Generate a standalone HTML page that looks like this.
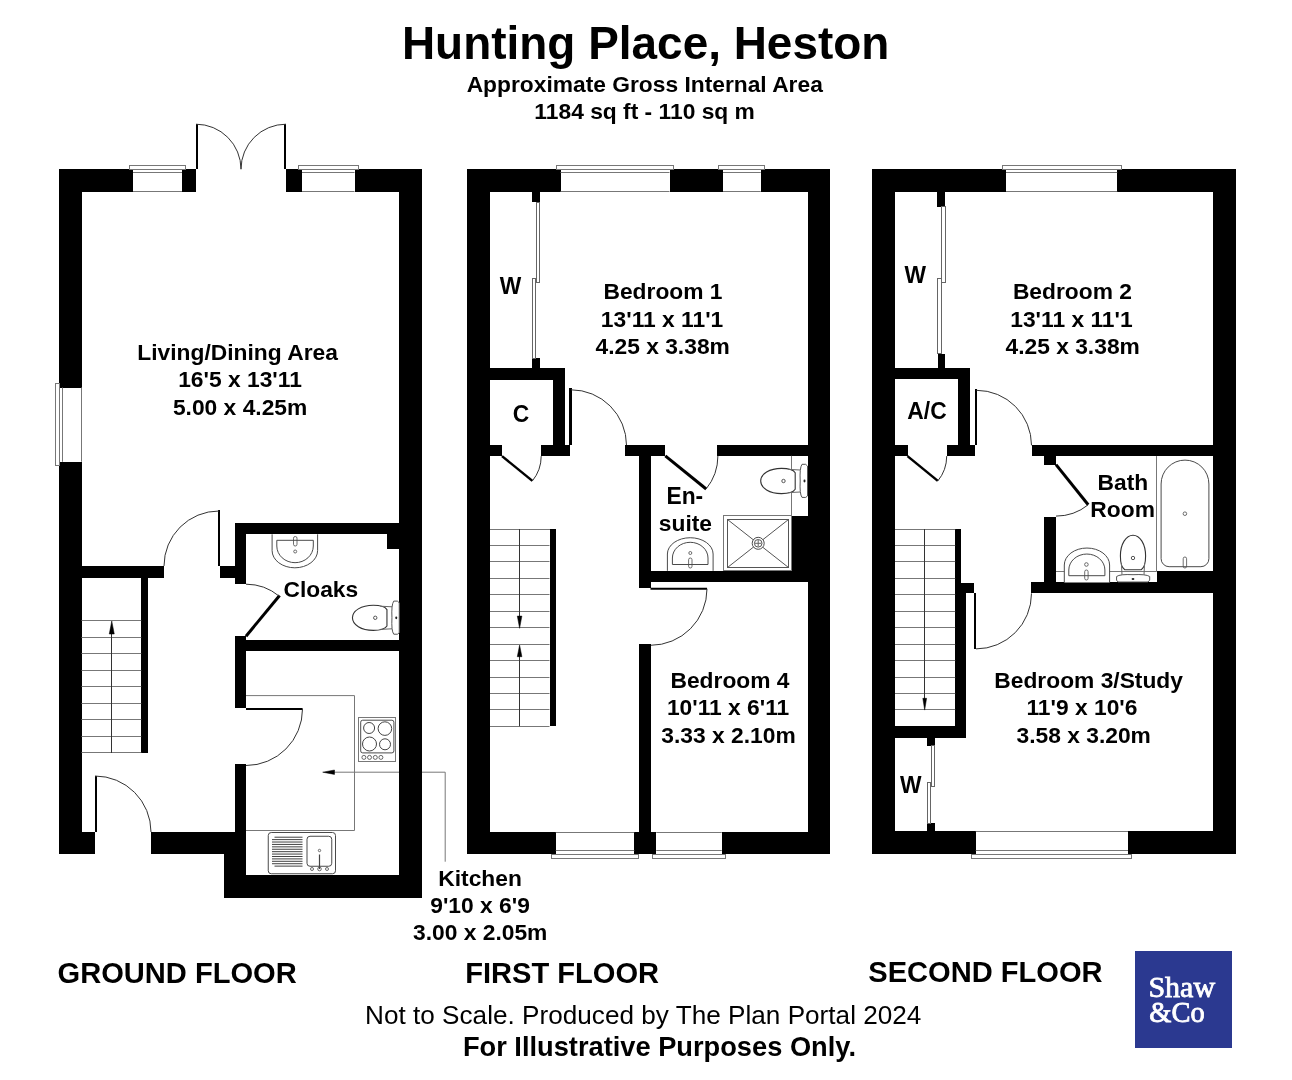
<!DOCTYPE html>
<html><head><meta charset="utf-8"><title>Hunting Place, Heston</title>
<style>html,body{margin:0;padding:0;background:#fff;}svg{display:block;will-change:transform;}</style></head>
<body><svg width="1292" height="1080" viewBox="0 0 1292 1080" shape-rendering="auto">
<rect width="1292" height="1080" fill="#fff"/>
<rect x="59" y="169" width="137" height="23" fill="#000"/>
<rect x="286" y="169" width="136" height="23" fill="#000"/>
<rect x="133" y="169" width="49" height="23" fill="#fff"/>
<line x1="133.00" y1="191.50" x2="182.00" y2="191.50" stroke="#777" stroke-width="1"/>
<line x1="133.00" y1="172.50" x2="182.00" y2="172.50" stroke="#777" stroke-width="1"/>
<rect x="129.50" y="165.50" width="56.00" height="4.00" rx="0" stroke="#777" stroke-width="1" fill="none"/>
<rect x="302" y="169" width="53" height="23" fill="#fff"/>
<line x1="302.00" y1="191.50" x2="354.50" y2="191.50" stroke="#777" stroke-width="1"/>
<line x1="302.00" y1="172.50" x2="354.50" y2="172.50" stroke="#777" stroke-width="1"/>
<rect x="298.50" y="165.50" width="60.00" height="4.00" rx="0" stroke="#777" stroke-width="1" fill="none"/>
<rect x="399" y="169" width="23" height="729" fill="#000"/>
<rect x="59" y="169" width="23" height="685" fill="#000"/>
<rect x="59" y="388" width="23" height="74" fill="#fff"/>
<line x1="62.50" y1="387.50" x2="62.50" y2="461.75" stroke="#777" stroke-width="1"/>
<line x1="81.50" y1="387.50" x2="81.50" y2="461.75" stroke="#777" stroke-width="1"/>
<rect x="55.50" y="383.50" width="4.00" height="82.00" rx="0" stroke="#777" stroke-width="1" fill="none"/>
<rect x="59" y="832" width="36" height="22" fill="#000"/>
<rect x="151" y="832" width="95" height="22" fill="#000"/>
<rect x="224" y="832" width="22" height="66" fill="#000"/>
<rect x="224" y="875" width="198" height="23" fill="#000"/>
<rect x="82" y="566" width="82" height="12" fill="#000"/>
<rect x="141" y="578" width="7" height="175" fill="#000"/>
<line x1="81.50" y1="620.50" x2="141.25" y2="620.50" stroke="#777" stroke-width="1"/>
<line x1="81.50" y1="637.50" x2="141.25" y2="637.50" stroke="#777" stroke-width="1"/>
<line x1="81.50" y1="653.50" x2="141.25" y2="653.50" stroke="#777" stroke-width="1"/>
<line x1="81.50" y1="670.50" x2="141.25" y2="670.50" stroke="#777" stroke-width="1"/>
<line x1="81.50" y1="686.50" x2="141.25" y2="686.50" stroke="#777" stroke-width="1"/>
<line x1="81.50" y1="703.50" x2="141.25" y2="703.50" stroke="#777" stroke-width="1"/>
<line x1="81.50" y1="719.50" x2="141.25" y2="719.50" stroke="#777" stroke-width="1"/>
<line x1="81.50" y1="736.50" x2="141.25" y2="736.50" stroke="#777" stroke-width="1"/>
<line x1="81.50" y1="752.50" x2="141.25" y2="752.50" stroke="#777" stroke-width="1"/>
<line x1="111.50" y1="626.00" x2="111.50" y2="753.00" stroke="#333" stroke-width="1"/>
<path d="M109.25,634 L111.75,621 L114.25,634 Z" stroke="#000" stroke-width="0.5" fill="#000"/>
<rect x="218" y="510" width="2" height="56" fill="#000"/>
<rect x="220" y="566" width="15" height="12" fill="#000"/>
<path d="M219.00,511.00 A55.00,55.00 0 0 0 164.00,566.00" stroke="#333" stroke-width="1" fill="none"/>
<rect x="235" y="523" width="164" height="11" fill="#000"/>
<rect x="235" y="523" width="11" height="61" fill="#000"/>
<rect x="387" y="534" width="12" height="15" fill="#000"/>
<rect x="235" y="636" width="11" height="72" fill="#000"/>
<rect x="235" y="764" width="11" height="134" fill="#000"/>
<rect x="235" y="640" width="164" height="11" fill="#000"/>
<line x1="246.00" y1="636.20" x2="279.60" y2="595.50" stroke="#000" stroke-width="3"/>
<path d="M246.00,584.20 A52.00,52.00 0 0 1 279.15,596.13" stroke="#333" stroke-width="1" fill="none"/>
<line x1="246.00" y1="709.00" x2="302.60" y2="709.00" stroke="#000" stroke-width="2"/>
<path d="M302.50,709.00 A56.50,56.50 0 0 1 246.00,765.50" stroke="#333" stroke-width="1" fill="none"/>
<rect x="95" y="776" width="2" height="56" fill="#000"/>
<path d="M95.00,776.00 A56.00,56.00 0 0 1 151.00,832.00" stroke="#333" stroke-width="1" fill="none"/>
<rect x="196" y="124" width="2" height="45" fill="#000"/>
<path d="M196.00,124.20 A45.00,45.00 0 0 1 241.00,169.20" stroke="#333" stroke-width="1" fill="none"/>
<rect x="284" y="124" width="2" height="45" fill="#000"/>
<path d="M286.00,124.20 A45.00,45.00 0 0 0 241.00,169.20" stroke="#333" stroke-width="1" fill="none"/>
<path d="M272.1,534.3 V550.6 A22.75,17.2 0 0 0 317.6,550.6 V534.3" stroke="#4a4a4a" stroke-width="1" fill="#fff"/>
<path d="M276.8,540.3 H313.3 V546 A18.25,16.7 0 0 1 276.8,546 Z" stroke="#4a4a4a" stroke-width="1" fill="none"/>
<rect x="293.50" y="536.50" width="3.50" height="9.50" rx="1.7" stroke="#4a4a4a" stroke-width="0.8" fill="none"/>
<circle cx="295.20" cy="551.50" r="1.50" stroke="#4a4a4a" stroke-width="0.8" fill="none"/>
<g transform="translate(399.25,617.8) rotate(0)"><path d="M-12.3,-8.2 C-14,-11 -18,-12.6 -26,-12.6 C-38,-12.6 -46.8,-7 -46.8,0 C-46.8,7 -38,12.6 -26,12.6 C-18,12.6 -14,11 -12.3,8.2 Z" stroke="#333" stroke-width="1.1" fill="#fff"/><path d="M-19,-11.6 L-7.2,-11 M-19,11.6 L-7.2,11" stroke="#666" stroke-width="1" fill="none"/><path d="M-5.5,-16.7 Q-1,-17.5 0,-15 V15 Q-1,17.2 -5.5,16.4 Q-8,13 -7.3,0 Q-8,-13 -5.5,-16.7 Z" stroke="#555" stroke-width="1" fill="#fff"/><circle cx="-24" cy="0" r="1.7" stroke="#444" stroke-width="0.9" fill="none"/><ellipse cx="-3" cy="0" rx="1" ry="1.4" fill="#222"/></g>
<path d="M246,695.6 H354.5 V830.5 H246" stroke="#777" stroke-width="1" fill="none"/>
<rect x="358.50" y="717.50" width="37.00" height="44.00" rx="0" stroke="#777" stroke-width="1" fill="none"/>
<rect x="360.70" y="720.20" width="33.20" height="32.70" rx="2" stroke="#4a4a4a" stroke-width="1" fill="none"/>
<circle cx="369.10" cy="728.00" r="5.50" stroke="#444" stroke-width="1" fill="none"/>
<circle cx="384.90" cy="728.60" r="6.80" stroke="#444" stroke-width="1" fill="none"/>
<circle cx="369.50" cy="744.00" r="7.00" stroke="#444" stroke-width="1" fill="none"/>
<circle cx="385.00" cy="744.30" r="5.50" stroke="#444" stroke-width="1" fill="none"/>
<circle cx="363.90" cy="757.40" r="2.00" stroke="#444" stroke-width="0.8" fill="none"/>
<circle cx="369.50" cy="757.40" r="2.00" stroke="#444" stroke-width="0.8" fill="none"/>
<circle cx="375.30" cy="757.40" r="2.00" stroke="#444" stroke-width="0.8" fill="none"/>
<circle cx="380.90" cy="757.40" r="2.00" stroke="#444" stroke-width="0.8" fill="none"/>
<rect x="268.25" y="832.50" width="67.25" height="41.25" rx="3" stroke="#4a4a4a" stroke-width="1" fill="none"/>
<line x1="274.50" y1="837.20" x2="302.50" y2="837.20" stroke="#444" stroke-width="1.02"/>
<line x1="272.00" y1="839.61" x2="302.50" y2="839.61" stroke="#444" stroke-width="1.02"/>
<line x1="272.00" y1="842.02" x2="302.50" y2="842.02" stroke="#444" stroke-width="1.02"/>
<line x1="272.00" y1="844.43" x2="302.50" y2="844.43" stroke="#444" stroke-width="1.02"/>
<line x1="272.00" y1="846.84" x2="302.50" y2="846.84" stroke="#444" stroke-width="1.02"/>
<line x1="272.00" y1="849.25" x2="302.50" y2="849.25" stroke="#444" stroke-width="1.02"/>
<line x1="272.00" y1="851.66" x2="302.50" y2="851.66" stroke="#444" stroke-width="1.02"/>
<line x1="272.00" y1="854.07" x2="302.50" y2="854.07" stroke="#444" stroke-width="1.02"/>
<line x1="272.00" y1="856.48" x2="302.50" y2="856.48" stroke="#444" stroke-width="1.02"/>
<line x1="272.00" y1="858.89" x2="302.50" y2="858.89" stroke="#444" stroke-width="1.02"/>
<line x1="272.00" y1="861.30" x2="302.50" y2="861.30" stroke="#444" stroke-width="1.02"/>
<line x1="272.00" y1="863.71" x2="302.50" y2="863.71" stroke="#444" stroke-width="1.02"/>
<line x1="274.50" y1="866.12" x2="302.50" y2="866.12" stroke="#444" stroke-width="1.02"/>
<rect x="307.00" y="836.25" width="24.75" height="30.00" rx="3" stroke="#4a4a4a" stroke-width="1" fill="none"/>
<line x1="319.50" y1="854.50" x2="319.50" y2="869.00" stroke="#444" stroke-width="1.2"/>
<circle cx="319.50" cy="850.50" r="1.20" stroke="#4a4a4a" stroke-width="0.8" fill="none"/>
<circle cx="319.50" cy="869.00" r="1.80" stroke="#4a4a4a" stroke-width="0.8" fill="none"/>
<circle cx="312.00" cy="869.00" r="1.50" stroke="#4a4a4a" stroke-width="0.8" fill="none"/>
<circle cx="327.00" cy="869.00" r="1.50" stroke="#4a4a4a" stroke-width="0.8" fill="none"/>
<path d="M330,772.2 H399" stroke="#777" stroke-width="1" fill="none"/>
<path d="M422,772.2 H445.2 V861.7" stroke="#777" stroke-width="1" fill="none"/>
<path d="M322.7,772.2 L334.5,770 L334.5,774.4 Z" stroke="#000" stroke-width="0.5" fill="#000"/>
<rect x="467" y="169" width="363" height="23" fill="#000"/>
<rect x="561" y="169" width="109" height="23" fill="#fff"/>
<line x1="560.50" y1="191.50" x2="669.50" y2="191.50" stroke="#777" stroke-width="1"/>
<line x1="560.50" y1="172.50" x2="669.50" y2="172.50" stroke="#777" stroke-width="1"/>
<rect x="556.50" y="165.50" width="117.00" height="4.00" rx="0" stroke="#777" stroke-width="1" fill="none"/>
<rect x="723" y="169" width="38" height="23" fill="#fff"/>
<line x1="723.00" y1="191.50" x2="760.75" y2="191.50" stroke="#777" stroke-width="1"/>
<line x1="723.00" y1="172.50" x2="760.75" y2="172.50" stroke="#777" stroke-width="1"/>
<rect x="718.50" y="165.50" width="46.00" height="4.00" rx="0" stroke="#777" stroke-width="1" fill="none"/>
<rect x="467" y="169" width="23" height="685" fill="#000"/>
<rect x="808" y="169" width="22" height="685" fill="#000"/>
<rect x="467" y="832" width="363" height="22" fill="#000"/>
<rect x="556" y="832" width="78" height="22" fill="#fff"/>
<line x1="555.75" y1="832.50" x2="634.25" y2="832.50" stroke="#777" stroke-width="1"/>
<line x1="555.75" y1="850.50" x2="634.25" y2="850.50" stroke="#777" stroke-width="1"/>
<rect x="551.50" y="854.50" width="87.00" height="4.00" rx="0" stroke="#777" stroke-width="1" fill="none"/>
<rect x="656" y="832" width="66" height="22" fill="#fff"/>
<line x1="656.25" y1="832.50" x2="721.75" y2="832.50" stroke="#777" stroke-width="1"/>
<line x1="656.25" y1="850.50" x2="721.75" y2="850.50" stroke="#777" stroke-width="1"/>
<rect x="652.50" y="854.50" width="73.00" height="4.00" rx="0" stroke="#777" stroke-width="1" fill="none"/>
<rect x="532" y="192" width="8" height="10" fill="#000"/>
<rect x="532" y="358" width="8" height="10" fill="#000"/>
<rect x="536.50" y="202.50" width="3.00" height="80.00" rx="0" stroke="#666" stroke-width="1" fill="none"/>
<rect x="532.50" y="278.50" width="3.00" height="80.00" rx="0" stroke="#666" stroke-width="1" fill="none"/>
<rect x="490" y="368" width="75" height="12" fill="#000"/>
<rect x="553" y="368" width="12" height="88" fill="#000"/>
<rect x="490" y="445" width="12" height="11" fill="#000"/>
<rect x="541" y="445" width="29" height="11" fill="#000"/>
<line x1="502.00" y1="456.10" x2="532.40" y2="480.90" stroke="#000" stroke-width="2.5"/>
<path d="M532.38,480.88 A39.20,39.20 0 0 0 541.20,456.10" stroke="#333" stroke-width="1" fill="none"/>
<rect x="569" y="388" width="3" height="57" fill="#000"/>
<path d="M571.00,389.80 A55.50,55.50 0 0 1 626.50,445.30" stroke="#333" stroke-width="1" fill="none"/>
<rect x="625" y="445" width="40" height="11" fill="#000"/>
<rect x="717" y="445" width="91" height="11" fill="#000"/>
<rect x="639" y="456" width="12" height="132" fill="#000"/>
<rect x="651" y="571" width="157" height="11" fill="#000"/>
<line x1="665.30" y1="455.80" x2="706.20" y2="489.00" stroke="#000" stroke-width="3"/>
<path d="M706.12,488.97 A52.60,52.60 0 0 0 717.90,455.80" stroke="#333" stroke-width="1" fill="none"/>
<rect x="792" y="516" width="16" height="55" fill="#000"/>
<line x1="791.50" y1="455.80" x2="791.50" y2="515.70" stroke="#777" stroke-width="1"/>
<g transform="translate(807.5,481) rotate(0)"><path d="M-12.3,-8.2 C-14,-11 -18,-12.6 -26,-12.6 C-38,-12.6 -46.8,-7 -46.8,0 C-46.8,7 -38,12.6 -26,12.6 C-18,12.6 -14,11 -12.3,8.2 Z" stroke="#333" stroke-width="1.1" fill="#fff"/><path d="M-19,-11.6 L-7.2,-11 M-19,11.6 L-7.2,11" stroke="#666" stroke-width="1" fill="none"/><path d="M-5.5,-16.7 Q-1,-17.5 0,-15 V15 Q-1,17.2 -5.5,16.4 Q-8,13 -7.3,0 Q-8,-13 -5.5,-16.7 Z" stroke="#555" stroke-width="1" fill="#fff"/><circle cx="-24" cy="0" r="1.7" stroke="#444" stroke-width="0.9" fill="none"/><ellipse cx="-3" cy="0" rx="1" ry="1.4" fill="#222"/></g>
<rect x="723.50" y="515.50" width="68.00" height="55.00" rx="0" stroke="#777" stroke-width="1" fill="none"/>
<rect x="727.50" y="519.50" width="61.00" height="48.00" rx="0" stroke="#555" stroke-width="1" fill="none"/>
<line x1="727.50" y1="519.50" x2="788.50" y2="567.50" stroke="#555" stroke-width="1"/>
<line x1="788.50" y1="519.50" x2="727.50" y2="567.50" stroke="#555" stroke-width="1"/>
<circle cx="758.20" cy="543.30" r="6.00" stroke="#4a4a4a" stroke-width="1" fill="#fff"/>
<circle cx="758.20" cy="543.30" r="3.80" stroke="#555" stroke-width="1" fill="none"/>
<line x1="755.00" y1="543.30" x2="761.40" y2="543.30" stroke="#666" stroke-width="1.02"/>
<line x1="758.20" y1="540.00" x2="758.20" y2="546.60" stroke="#666" stroke-width="1.02"/>
<path d="M667.4,570.8 V554 A22.85,16.3 0 0 1 713.1,554 V570.8" stroke="#4a4a4a" stroke-width="1" fill="#fff"/>
<path d="M672.4,564.5 H708 V558 A17.8,15.7 0 0 0 672.4,558 Z" stroke="#4a4a4a" stroke-width="1" fill="none"/>
<rect x="688.60" y="558.00" width="3.40" height="10.00" rx="1.7" stroke="#4a4a4a" stroke-width="0.8" fill="none"/>
<circle cx="690.30" cy="553.00" r="1.50" stroke="#4a4a4a" stroke-width="0.8" fill="none"/>
<line x1="650.50" y1="588.80" x2="707.00" y2="588.80" stroke="#000" stroke-width="2"/>
<path d="M707.00,588.80 A56.50,56.50 0 0 1 650.50,645.30" stroke="#333" stroke-width="1" fill="none"/>
<rect x="639" y="644" width="12" height="210" fill="#000"/>
<line x1="490.00" y1="529.50" x2="550.00" y2="529.50" stroke="#777" stroke-width="1"/>
<rect x="550" y="529" width="6" height="197" fill="#000"/>
<line x1="490.00" y1="529.50" x2="549.50" y2="529.50" stroke="#777" stroke-width="1"/>
<line x1="490.00" y1="545.50" x2="549.50" y2="545.50" stroke="#777" stroke-width="1"/>
<line x1="490.00" y1="561.50" x2="549.50" y2="561.50" stroke="#777" stroke-width="1"/>
<line x1="490.00" y1="578.50" x2="549.50" y2="578.50" stroke="#777" stroke-width="1"/>
<line x1="490.00" y1="594.50" x2="549.50" y2="594.50" stroke="#777" stroke-width="1"/>
<line x1="490.00" y1="611.50" x2="549.50" y2="611.50" stroke="#777" stroke-width="1"/>
<line x1="490.00" y1="627.50" x2="549.50" y2="627.50" stroke="#777" stroke-width="1"/>
<line x1="490.00" y1="644.50" x2="549.50" y2="644.50" stroke="#777" stroke-width="1"/>
<line x1="490.00" y1="660.50" x2="549.50" y2="660.50" stroke="#777" stroke-width="1"/>
<line x1="490.00" y1="677.50" x2="549.50" y2="677.50" stroke="#777" stroke-width="1"/>
<line x1="490.00" y1="693.50" x2="549.50" y2="693.50" stroke="#777" stroke-width="1"/>
<line x1="490.00" y1="709.50" x2="549.50" y2="709.50" stroke="#777" stroke-width="1"/>
<line x1="490.00" y1="726.50" x2="549.50" y2="726.50" stroke="#777" stroke-width="1"/>
<line x1="519.50" y1="529.00" x2="519.50" y2="622.00" stroke="#333" stroke-width="1"/>
<path d="M517.3,616.1 L519.6,628.3 L521.9,616.1 Z" stroke="#000" stroke-width="0.5" fill="#000"/>
<line x1="519.50" y1="651.00" x2="519.50" y2="726.25" stroke="#333" stroke-width="1"/>
<path d="M517.3,656.7 L519.6,645.1 L521.9,656.7 Z" stroke="#000" stroke-width="0.5" fill="#000"/>
<rect x="872" y="169" width="364" height="23" fill="#000"/>
<rect x="1006" y="169" width="111" height="23" fill="#fff"/>
<line x1="1006.00" y1="191.50" x2="1117.25" y2="191.50" stroke="#777" stroke-width="1"/>
<line x1="1006.00" y1="172.50" x2="1117.25" y2="172.50" stroke="#777" stroke-width="1"/>
<rect x="1002.50" y="165.50" width="119.00" height="4.00" rx="0" stroke="#777" stroke-width="1" fill="none"/>
<rect x="872" y="169" width="23" height="685" fill="#000"/>
<rect x="1213" y="169" width="23" height="685" fill="#000"/>
<rect x="872" y="831" width="364" height="23" fill="#000"/>
<rect x="976" y="831" width="152" height="23" fill="#fff"/>
<line x1="975.75" y1="831.50" x2="1128.00" y2="831.50" stroke="#777" stroke-width="1"/>
<line x1="975.75" y1="850.50" x2="1128.00" y2="850.50" stroke="#777" stroke-width="1"/>
<rect x="971.50" y="854.50" width="160.00" height="4.00" rx="0" stroke="#777" stroke-width="1" fill="none"/>
<rect x="937" y="192" width="8" height="15" fill="#000"/>
<rect x="938" y="354" width="7" height="14" fill="#000"/>
<rect x="941.50" y="206.50" width="4.00" height="76.00" rx="0" stroke="#666" stroke-width="1" fill="none"/>
<rect x="937.50" y="278.50" width="4.00" height="75.00" rx="0" stroke="#666" stroke-width="1" fill="none"/>
<rect x="895" y="368" width="75" height="11" fill="#000"/>
<rect x="958" y="368" width="12" height="88" fill="#000"/>
<rect x="895" y="445" width="13" height="11" fill="#000"/>
<rect x="947" y="445" width="28" height="11" fill="#000"/>
<line x1="907.50" y1="456.10" x2="937.80" y2="480.90" stroke="#000" stroke-width="2.5"/>
<path d="M937.83,480.93 A39.20,39.20 0 0 0 946.70,456.10" stroke="#333" stroke-width="1" fill="none"/>
<rect x="975" y="389" width="2" height="56" fill="#000"/>
<path d="M976.50,390.30 A55.00,55.00 0 0 1 1031.50,445.30" stroke="#333" stroke-width="1" fill="none"/>
<rect x="1032" y="445" width="181" height="11" fill="#000"/>
<rect x="1044" y="456" width="12" height="9" fill="#000"/>
<line x1="1056.00" y1="464.60" x2="1088.20" y2="504.80" stroke="#000" stroke-width="3"/>
<path d="M1088.20,504.79 A51.50,51.50 0 0 1 1056.00,516.10" stroke="#333" stroke-width="1" fill="none"/>
<rect x="1044" y="517" width="12" height="76" fill="#000"/>
<rect x="1031" y="582" width="182" height="11" fill="#000"/>
<line x1="1156.50" y1="456.10" x2="1156.50" y2="571.00" stroke="#777" stroke-width="1"/>
<rect x="1157" y="571" width="56" height="11" fill="#000"/>
<line x1="1056.00" y1="571.50" x2="1156.80" y2="571.50" stroke="#777" stroke-width="1"/>
<path d="M1161.1,484 A23.9,23.9 0 0 1 1208.9,484 V558.7 A8,8 0 0 1 1200.9,566.7 H1169.1 A8,8 0 0 1 1161.1,558.7 Z" stroke="#4a4a4a" stroke-width="1" fill="none"/>
<circle cx="1184.90" cy="513.70" r="1.80" stroke="#4a4a4a" stroke-width="0.8" fill="none"/>
<rect x="1183.20" y="557.00" width="3.40" height="11.00" rx="1.7" stroke="#4a4a4a" stroke-width="0.8" fill="none"/>
<path d="M1064.3,582.4 V565 A22.65,17 0 0 1 1109.6,565 V582.4" stroke="#4a4a4a" stroke-width="1" fill="#fff"/>
<path d="M1068.8,575.7 H1104.9 V570 A18.05,16 0 0 0 1068.8,570 Z" stroke="#4a4a4a" stroke-width="1" fill="none"/>
<circle cx="1086.40" cy="564.50" r="1.80" stroke="#4a4a4a" stroke-width="0.8" fill="none"/>
<rect x="1084.70" y="570.00" width="3.40" height="10.00" rx="1.7" stroke="#4a4a4a" stroke-width="0.8" fill="none"/>
<g transform="translate(1133,582) rotate(90)"><path d="M-12.3,-8.2 C-14,-11 -18,-12.6 -26,-12.6 C-38,-12.6 -46.8,-7 -46.8,0 C-46.8,7 -38,12.6 -26,12.6 C-18,12.6 -14,11 -12.3,8.2 Z" stroke="#333" stroke-width="1.1" fill="#fff"/><path d="M-19,-11.6 L-7.2,-11 M-19,11.6 L-7.2,11" stroke="#666" stroke-width="1" fill="none"/><path d="M-5.5,-16.7 Q-1,-17.5 0,-15 V15 Q-1,17.2 -5.5,16.4 Q-8,13 -7.3,0 Q-8,-13 -5.5,-16.7 Z" stroke="#555" stroke-width="1" fill="#fff"/><circle cx="-24" cy="0" r="1.7" stroke="#444" stroke-width="0.9" fill="none"/><ellipse cx="-3" cy="0" rx="1" ry="1.4" fill="#222"/></g>
<line x1="895.00" y1="529.50" x2="955.20" y2="529.50" stroke="#777" stroke-width="1"/>
<rect x="955" y="529" width="6" height="54" fill="#000"/>
<rect x="955" y="583" width="19" height="10" fill="#000"/>
<rect x="955" y="583" width="11" height="155" fill="#000"/>
<rect x="895" y="726" width="71" height="12" fill="#000"/>
<line x1="895.00" y1="529.50" x2="955.20" y2="529.50" stroke="#777" stroke-width="1"/>
<line x1="895.00" y1="545.50" x2="955.20" y2="545.50" stroke="#777" stroke-width="1"/>
<line x1="895.00" y1="561.50" x2="955.20" y2="561.50" stroke="#777" stroke-width="1"/>
<line x1="895.00" y1="578.50" x2="955.20" y2="578.50" stroke="#777" stroke-width="1"/>
<line x1="895.00" y1="594.50" x2="955.20" y2="594.50" stroke="#777" stroke-width="1"/>
<line x1="895.00" y1="611.50" x2="955.20" y2="611.50" stroke="#777" stroke-width="1"/>
<line x1="895.00" y1="627.50" x2="955.20" y2="627.50" stroke="#777" stroke-width="1"/>
<line x1="895.00" y1="644.50" x2="955.20" y2="644.50" stroke="#777" stroke-width="1"/>
<line x1="895.00" y1="660.50" x2="955.20" y2="660.50" stroke="#777" stroke-width="1"/>
<line x1="895.00" y1="677.50" x2="955.20" y2="677.50" stroke="#777" stroke-width="1"/>
<line x1="895.00" y1="693.50" x2="955.20" y2="693.50" stroke="#777" stroke-width="1"/>
<line x1="895.00" y1="709.50" x2="955.20" y2="709.50" stroke="#777" stroke-width="1"/>
<line x1="924.50" y1="529.00" x2="924.50" y2="704.00" stroke="#333" stroke-width="1"/>
<path d="M922.8,698.3 L924.7,710.1 L926.6,698.3 Z" stroke="#000" stroke-width="0.5" fill="#000"/>
<rect x="974" y="593" width="2" height="56" fill="#000"/>
<path d="M976.00,648.90 A55.50,55.50 0 0 0 1031.50,593.40" stroke="#333" stroke-width="1" fill="none"/>
<rect x="927" y="738" width="8" height="8" fill="#000"/>
<rect x="927" y="823" width="8" height="8" fill="#000"/>
<rect x="931.50" y="745.50" width="3.00" height="41.00" rx="0" stroke="#666" stroke-width="1" fill="none"/>
<rect x="927.50" y="782.50" width="3.00" height="41.00" rx="0" stroke="#666" stroke-width="1" fill="none"/>
<rect x="1135" y="951" width="97" height="97" fill="#2b3990"/>
<text transform="translate(401.93,59.30) scale(1,1.005)" x="0" y="0" font-family='"Liberation Sans", sans-serif' font-weight="700" font-size="45.94" fill="#000">Hunting Place, Heston</text>
<text transform="translate(466.64,92.10) scale(1,1.004)" x="0" y="0" font-family='"Liberation Sans", sans-serif' font-weight="700" font-size="22.80" fill="#000">Approximate Gross Internal Area</text>
<text transform="translate(534.37,119.30) scale(1,1.000)" x="0" y="0" font-family='"Liberation Sans", sans-serif' font-weight="700" font-size="22.80" fill="#000">1184 sq ft - 110 sq m</text>
<text transform="translate(137.36,359.70) scale(1,1.006)" x="0" y="0" font-family='"Liberation Sans", sans-serif' font-weight="700" font-size="22.80" fill="#000">Living/Dining Area</text>
<text transform="translate(178.18,387.00) scale(1,1.000)" x="0" y="0" font-family='"Liberation Sans", sans-serif' font-weight="700" font-size="22.80" fill="#000">16'5 x 13'11</text>
<text transform="translate(172.92,414.50) scale(1,1.000)" x="0" y="0" font-family='"Liberation Sans", sans-serif' font-weight="700" font-size="22.80" fill="#000">5.00 x 4.25m</text>
<text transform="translate(283.47,596.50) scale(1,1.005)" x="0" y="0" font-family='"Liberation Sans", sans-serif' font-weight="700" font-size="22.80" fill="#000">Cloaks</text>
<text transform="translate(438.29,885.50) scale(1,1.004)" x="0" y="0" font-family='"Liberation Sans", sans-serif' font-weight="700" font-size="22.80" fill="#000">Kitchen</text>
<text transform="translate(430.23,912.70) scale(1,1.000)" x="0" y="0" font-family='"Liberation Sans", sans-serif' font-weight="700" font-size="22.80" fill="#000">9'10 x 6'9</text>
<text transform="translate(413.01,940.00) scale(1,1.000)" x="0" y="0" font-family='"Liberation Sans", sans-serif' font-weight="700" font-size="22.80" fill="#000">3.00 x 2.05m</text>
<text transform="translate(499.84,293.70) scale(1,1.030)" x="0" y="0" font-family='"Liberation Sans", sans-serif' font-weight="700" font-size="22.80" fill="#000">W</text>
<text transform="translate(512.86,421.80) scale(1,1.030)" x="0" y="0" font-family='"Liberation Sans", sans-serif' font-weight="700" font-size="22.80" fill="#000">C</text>
<text transform="translate(603.47,298.75) scale(1,1.004)" x="0" y="0" font-family='"Liberation Sans", sans-serif' font-weight="700" font-size="22.80" fill="#000">Bedroom 1</text>
<text transform="translate(600.85,326.90) scale(1,1.000)" x="0" y="0" font-family='"Liberation Sans", sans-serif' font-weight="700" font-size="22.80" fill="#000">13'11 x 11'1</text>
<text transform="translate(595.47,353.75) scale(1,1.000)" x="0" y="0" font-family='"Liberation Sans", sans-serif' font-weight="700" font-size="22.80" fill="#000">4.25 x 3.38m</text>
<text transform="translate(666.43,503.60) scale(1,1.015)" x="0" y="0" font-family='"Liberation Sans", sans-serif' font-weight="700" font-size="22.80" fill="#000">En-</text>
<text transform="translate(658.83,530.70) scale(1,1.000)" x="0" y="0" font-family='"Liberation Sans", sans-serif' font-weight="700" font-size="22.80" fill="#000">suite</text>
<text transform="translate(670.50,687.80) scale(1,1.004)" x="0" y="0" font-family='"Liberation Sans", sans-serif' font-weight="700" font-size="22.80" fill="#000">Bedroom 4</text>
<text transform="translate(666.88,714.90) scale(1,1.000)" x="0" y="0" font-family='"Liberation Sans", sans-serif' font-weight="700" font-size="22.80" fill="#000">10'11 x 6'11</text>
<text transform="translate(661.36,742.60) scale(1,1.000)" x="0" y="0" font-family='"Liberation Sans", sans-serif' font-weight="700" font-size="22.80" fill="#000">3.33 x 2.10m</text>
<text transform="translate(904.54,283.00) scale(1,1.030)" x="0" y="0" font-family='"Liberation Sans", sans-serif' font-weight="700" font-size="22.80" fill="#000">W</text>
<text transform="translate(1012.90,298.75) scale(1,1.004)" x="0" y="0" font-family='"Liberation Sans", sans-serif' font-weight="700" font-size="22.80" fill="#000">Bedroom 2</text>
<text transform="translate(1010.23,326.90) scale(1,1.000)" x="0" y="0" font-family='"Liberation Sans", sans-serif' font-weight="700" font-size="22.80" fill="#000">13'11 x 11'1</text>
<text transform="translate(1005.47,353.75) scale(1,1.000)" x="0" y="0" font-family='"Liberation Sans", sans-serif' font-weight="700" font-size="22.80" fill="#000">4.25 x 3.38m</text>
<text transform="translate(907.35,418.70) scale(1,1.030)" x="0" y="0" font-family='"Liberation Sans", sans-serif' font-weight="700" font-size="22.80" fill="#000">A/C</text>
<text transform="translate(1097.61,489.60) scale(1,1.008)" x="0" y="0" font-family='"Liberation Sans", sans-serif' font-weight="700" font-size="22.80" fill="#000">Bath</text>
<text transform="translate(1090.35,517.10) scale(1,1.008)" x="0" y="0" font-family='"Liberation Sans", sans-serif' font-weight="700" font-size="22.80" fill="#000">Room</text>
<text transform="translate(994.30,687.50) scale(1,1.005)" x="0" y="0" font-family='"Liberation Sans", sans-serif' font-weight="700" font-size="22.80" fill="#000">Bedroom 3/Study</text>
<text transform="translate(1026.45,715.00) scale(1,1.000)" x="0" y="0" font-family='"Liberation Sans", sans-serif' font-weight="700" font-size="22.80" fill="#000">11'9 x 10'6</text>
<text transform="translate(1016.51,742.50) scale(1,1.000)" x="0" y="0" font-family='"Liberation Sans", sans-serif' font-weight="700" font-size="22.80" fill="#000">3.58 x 3.20m</text>
<text transform="translate(899.99,793.00) scale(1,1.030)" x="0" y="0" font-family='"Liberation Sans", sans-serif' font-weight="700" font-size="22.80" fill="#000">W</text>
<text transform="translate(57.58,982.50) scale(1,1.030)" x="0" y="0" font-family='"Liberation Sans", sans-serif' font-weight="700" font-size="29.10" fill="#000">GROUND FLOOR</text>
<text transform="translate(465.28,982.70) scale(1,1.030)" x="0" y="0" font-family='"Liberation Sans", sans-serif' font-weight="700" font-size="29.10" fill="#000">FIRST FLOOR</text>
<text transform="translate(868.27,982.00) scale(1,1.030)" x="0" y="0" font-family='"Liberation Sans", sans-serif' font-weight="700" font-size="29.10" fill="#000">SECOND FLOOR</text>
<text transform="translate(365.05,1023.60) scale(1,1.005)" x="0" y="0" font-family='"Liberation Sans", sans-serif' font-weight="400" font-size="26.16" fill="#000">Not to Scale. Produced by The Plan Portal 2024</text>
<text transform="translate(462.88,1056.10) scale(1,1.004)" x="0" y="0" font-family='"Liberation Sans", sans-serif' font-weight="700" font-size="27.25" fill="#000">For Illustrative Purposes Only.</text>
<text transform="translate(1148.39,996.70) scale(1,1.000)" x="0" y="0" font-family='"Liberation Serif", serif' font-weight="400" font-size="30.03" fill="#fff" stroke="#fff" stroke-width="0.8">Shaw</text>
<text transform="translate(1149.32,1022.20) scale(1,1.000)" x="0" y="0" font-family='"Liberation Serif", serif' font-weight="400" font-size="28.47" fill="#fff" stroke="#fff" stroke-width="0.8">&amp;Co</text>
</svg></body></html>
